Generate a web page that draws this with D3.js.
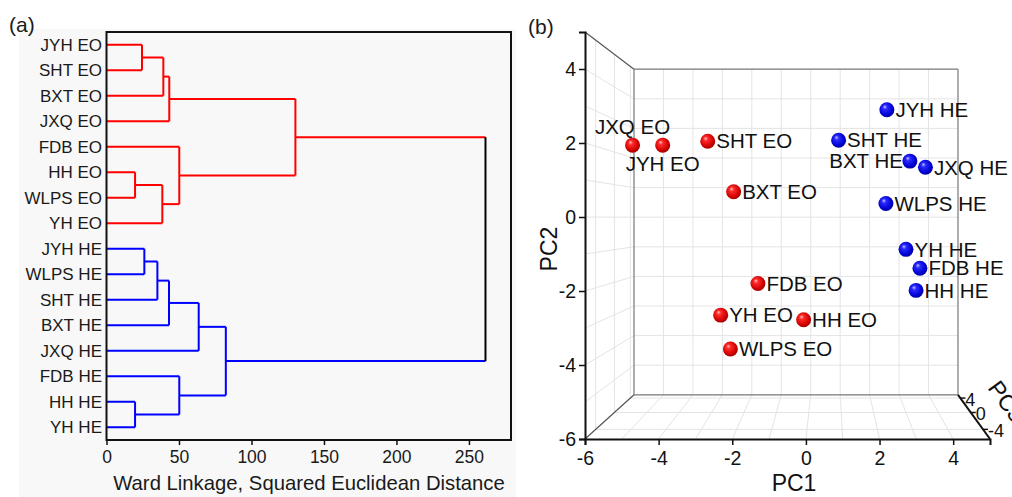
<!DOCTYPE html>
<html>
<head>
<meta charset="utf-8">
<script src="https://cdn.jsdelivr.net/npm/d3@7"></script>
<style>
  body { margin: 0; background: #fff; }
  svg { display: block; font-family: Arial, "Liberation Sans", sans-serif; }
</style>
</head>
<body>
<svg width="1012" height="497"></svg>
<script>
// (a) hierarchical clustering
const leafLabels = ['JYH EO', 'SHT EO', 'BXT EO', 'JXQ EO', 'FDB EO', 'HH EO', 'WLPS EO', 'YH EO',
  'JYH HE', 'WLPS HE', 'SHT HE', 'BXT HE', 'JXQ HE', 'FDB HE', 'HH HE', 'YH HE']
// linkage rows: [child a, child b, distance]; ids >= 16 point to earlier rows (16 + row index)
const linkage = [
  [0, 1, 24.5],    // 16
  [16, 2, 39.2],   // 17
  [17, 3, 43.3],   // 18
  [5, 6, 19.7],    // 19
  [19, 7, 38.5],   // 20
  [4, 20, 50.2],   // 21
  [18, 21, 130.3], // 22
  [8, 9, 26.1],    // 23
  [23, 10, 35.1],  // 24
  [24, 11, 43.1],  // 25
  [25, 12, 63.6],  // 26
  [14, 15, 19.7],  // 27
  [13, 27, 50.2],  // 28
  [26, 28, 82.3],  // 29
  [22, 29, 261.4]  // 30
]
const distTicks = [0, 50, 100, 150, 200, 250]
const distMinorTicks = [25, 75, 125, 175, 225, 275]

// (b) PCA scores
const sampleNames = ['JXQ EO', 'JYH EO', 'SHT EO', 'BXT EO', 'FDB EO', 'YH EO', 'HH EO', 'WLPS EO',
  'JYH HE', 'SHT HE', 'BXT HE', 'JXQ HE', 'WLPS HE', 'YH HE', 'FDB HE', 'HH HE']
const pc1 = [-5.44, -4.51, -3.12, -2.32, -1.57, -2.72, -0.16, -2.42,
  2.41, 0.92, 3.12, 3.60, 2.38, 3.00, 3.43, 3.31]
const pc2 = [2.21, 2.21, 2.33, 0.78, -2.04, -3.01, -3.15, -4.05,
  3.30, 2.36, 1.72, 1.53, 0.42, -0.99, -1.57, -2.25]
const pc3 = [0, 0, 0, 0, 0, 0, 0, 0,
  0, 0, 0, 0, 0, 0, 0, 0]
const pcTicks = [-6, -4, -2, 0, 2, 4]
const pcMinorTicks = [-6, -5, -4, -3, -2, -1, 0, 1, 2, 3, 4, 5]
const pc3Ticks = [-4, 0, 4]

const svg = d3.select('svg')

// ---------------- panel (a) ----------------
const panelA = svg.append('g')

panelA.append('rect')
  .attr('x', 19).attr('y', 29)
  .attr('width', 497).attr('height', 468)
  .attr('fill', '#f8f8f8')

const xD = d3.scaleLinear().domain([0, 279]).range([106.5, 511])
const yD = d3.scaleBand().domain(leafLabels).range([32, 440])

const nodes = leafLabels.map(name => ({
  name, h: 0, y: yD(name) + yD.bandwidth() / 2, group: name.slice(-2)
}))
linkage.forEach(([a, b, h]) => {
  const A = nodes[a], B = nodes[b]
  nodes.push({ h, y: (A.y + B.y) / 2, children: [A, B], group: A.group === B.group ? A.group : 'all' })
})
const groupColor = { EO: '#ff0000', HE: '#0000ff', all: '#000000' }

const links = panelA.append('g').attr('fill', 'none').attr('stroke-width', 2)
nodes.filter(d => d.children).forEach(d => {
  d.children.forEach(c => {
    links.append('line')
      .attr('x1', xD(c.h)).attr('x2', xD(d.h))
      .attr('y1', c.y).attr('y2', c.y)
      .attr('stroke', groupColor[c.group])
  })
  links.append('line')
    .attr('x1', xD(d.h)).attr('x2', xD(d.h))
    .attr('y1', d.children[0].y).attr('y2', d.children[1].y)
    .attr('stroke', groupColor[d.group])
})

// frame
panelA.append('rect')
  .attr('x', xD.range()[0]).attr('y', yD.range()[0])
  .attr('width', xD.range()[1] - xD.range()[0])
  .attr('height', yD.range()[1] - yD.range()[0])
  .attr('fill', 'none').attr('stroke', '#111').attr('stroke-width', 2)

panelA.append('g')
  .selectAll('text')
  .data(leafLabels)
  .join('text')
  .attr('x', 102)
  .attr('y', d => yD(d) + yD.bandwidth() / 2)
  .attr('dy', '0.36em')
  .attr('text-anchor', 'end')
  .attr('font-size', 17)
  .attr('fill', '#1a1a1a')
  .text(d => d)

const axisA = panelA.append('g').attr('transform', 'translate(0,440)')
axisA.call(d3.axisBottom(xD).tickValues(distMinorTicks).tickSize(3).tickFormat(''))
axisA.call(d3.axisBottom(xD).tickValues(distTicks).tickSize(5).tickPadding(6))
axisA.select('.domain').remove()
axisA.selectAll('line').attr('stroke', '#111').attr('stroke-width', 1.5)
axisA.selectAll('text').attr('font-size', 17.5).attr('fill', '#1a1a1a')
  .attr('font-family', 'Arial, "Liberation Sans", sans-serif')

panelA.append('text')
  .attr('x', 309).attr('y', 490)
  .attr('text-anchor', 'middle')
  .attr('font-size', 20.3)
  .attr('fill', '#1a1a1a')
  .text('Ward Linkage, Squared Euclidean Distance')

svg.append('text')
  .attr('x', 9).attr('y', 32)
  .attr('font-size', 21).attr('fill', '#1a1a1a')
  .text('(a)')

// ---------------- panel (b) ----------------
const panelB = svg.append('g')

const px = d3.scaleLinear().domain([-6, 5]).range([585, 990])
const py = d3.scaleLinear().domain([-6, 5]).range([439, 32])
const depth = d3.scaleLinear().domain([-6, 5]).range([0, 0.25])
const vp = [830, 218]

const project = (a, b, c) => {
  const s = 1 / (1 + depth(c))
  return [vp[0] + s * (px(a) - vp[0]), vp[1] + s * (py(b) - vp[1]), s]
}

const seg = (g, p, q, color, width) => {
  const P = project(...p), Q = project(...q)
  g.append('line')
    .attr('x1', P[0]).attr('y1', P[1])
    .attr('x2', Q[0]).attr('y2', Q[1])
    .attr('stroke', color).attr('stroke-width', width)
}

const grid = panelB.append('g')
const gridColor = '#e4e4e4'
const inner = d3.range(-5, 5)
// back wall
inner.forEach(v => {
  seg(grid, [v, -6, 5], [v, 5, 5], gridColor, 1)
  seg(grid, [-6, v, 5], [5, v, 5], gridColor, 1)
})
// left wall
inner.forEach(v => seg(grid, [-6, v, -6], [-6, v, 5], gridColor, 1))
pc3Ticks.forEach(z => seg(grid, [-6, -6, z], [-6, 5, z], gridColor, 1))
// floor
inner.forEach(v => seg(grid, [v, -6, -6], [v, -6, 5], gridColor, 1))
pc3Ticks.forEach(z => seg(grid, [-6, -6, z], [5, -6, z], gridColor, 1))

// box edges
const edges = panelB.append('g')
seg(edges, [-6, -6, 5], [5, -6, 5], '#777', 1.2)
seg(edges, [5, -6, 5], [5, 5, 5], '#777', 1.2)
seg(edges, [5, 5, 5], [-6, 5, 5], '#777', 1.2)
seg(edges, [-6, 5, 5], [-6, -6, 5], '#777', 1.2)
seg(edges, [-6, 5, -6], [-6, 5, 5], '#555', 1.2)
seg(edges, [-6, -6, -6], [-6, -6, 5], '#555', 1.2)
seg(edges, [5, -6, -6], [5, -6, 5], '#111', 2)

// front axes
const axB = panelB.append('g')
  .attr('transform', 'translate(0,' + py(-6) + ')')
axB.call(d3.axisBottom(px).tickValues(pcMinorTicks).tickSize(6).tickFormat(''))
axB.call(d3.axisBottom(px).tickValues(pcTicks).tickSize(6).tickPadding(6))
axB.select('.domain').attr('stroke', '#111').attr('stroke-width', 2)
axB.selectAll('line').attr('stroke', '#111').attr('stroke-width', 1.5)
axB.selectAll('text').attr('font-size', 19.5).attr('fill', '#111')
  .attr('font-family', 'Arial, "Liberation Sans", sans-serif')
  .text(d => String(d))

const axL = panelB.append('g')
  .attr('transform', 'translate(' + px(-6) + ',0)')
axL.call(d3.axisLeft(py).tickValues(pcMinorTicks).tickSize(6).tickFormat(''))
axL.call(d3.axisLeft(py).tickValues(pcTicks).tickSize(6).tickPadding(3))
axL.selectAll('.domain').attr('stroke', '#111').attr('stroke-width', 2)
axL.selectAll('line').attr('stroke', '#111').attr('stroke-width', 1.5)
axL.selectAll('text').attr('font-size', 19.5).attr('fill', '#111')
  .attr('font-family', 'Arial, "Liberation Sans", sans-serif')
  .text(d => String(d))

// PC3 axis ticks
const axZ = panelB.append('g')
pc3Ticks.forEach(z => {
  const [x, y] = project(5, -6, z)
  axZ.append('line')
    .attr('x1', x).attr('y1', y).attr('x2', x + 5).attr('y2', y)
    .attr('stroke', '#111').attr('stroke-width', 1.5)
  axZ.append('text')
    .attr('x', x + 5).attr('y', y + 8)
    .attr('font-size', 18).attr('fill', '#111')
    .text(String(z))
})

panelB.append('text')
  .attr('x', 794).attr('y', 491)
  .attr('text-anchor', 'middle')
  .attr('font-size', 23).attr('fill', '#111')
  .text('PC1')

panelB.append('text')
  .attr('transform', 'translate(557,249) rotate(-90)')
  .attr('text-anchor', 'middle')
  .attr('font-size', 23).attr('fill', '#111')
  .text('PC2')

panelB.append('text')
  .attr('transform', 'translate(987,388) rotate(54)')
  .attr('font-size', 23).attr('fill', '#111')
  .text('PC3')

// spheres
const defs = svg.append('defs')
const ballColors = {
  EO: ['#ffc4c4', '#ff2a2a', '#d00000', '#900000'],
  HE: ['#c4c4ff', '#2a2aff', '#0000d0', '#000090']
}
Object.entries(ballColors).forEach(([key, c]) => {
  const grad = defs.append('radialGradient')
    .attr('id', 'ball-' + key)
    .attr('cx', '45%').attr('cy', '45%').attr('r', '60%')
    .attr('fx', '35%').attr('fy', '30%')
  grad.append('stop').attr('offset', '0%').attr('stop-color', c[0])
  grad.append('stop').attr('offset', '25%').attr('stop-color', c[1])
  grad.append('stop').attr('offset', '75%').attr('stop-color', c[2])
  grad.append('stop').attr('offset', '100%').attr('stop-color', c[3])
})

const labelPlacement = { 'JXQ EO': 'above', 'JYH EO': 'below', 'BXT HE': 'left' }

const points = sampleNames.map((name, i) => {
  const [x, y, s] = project(pc1[i], pc2[i], pc3[i])
  return { name, x, y, s, group: name.slice(-2) }
}).sort((a, b) => a.s - b.s)

const pts = panelB.append('g')
pts.selectAll('circle')
  .data(points)
  .join('circle')
  .attr('cx', d => d.x).attr('cy', d => d.y)
  .attr('r', d => 8.5 * d.s)
  .attr('fill', d => 'url(#ball-' + d.group + ')')

pts.selectAll('text')
  .data(points)
  .join('text')
  .attr('font-size', 20.5)
  .attr('fill', '#111')
  .attr('x', d => {
    const p = labelPlacement[d.name]
    if (p === 'above' || p === 'below') return d.x
    if (p === 'left') return d.x - 7
    return d.x + 8.5
  })
  .attr('y', d => {
    const p = labelPlacement[d.name]
    if (p === 'above') return d.y - 11.5
    if (p === 'below') return d.y + 26
    return d.y + 7.2
  })
  .attr('text-anchor', d => {
    const p = labelPlacement[d.name]
    if (p === 'above' || p === 'below') return 'middle'
    if (p === 'left') return 'end'
    return 'start'
  })
  .text(d => d.name)

svg.append('text')
  .attr('x', 528).attr('y', 34)
  .attr('font-size', 21).attr('fill', '#1a1a1a')
  .text('(b)')
</script>
</body>
</html>
